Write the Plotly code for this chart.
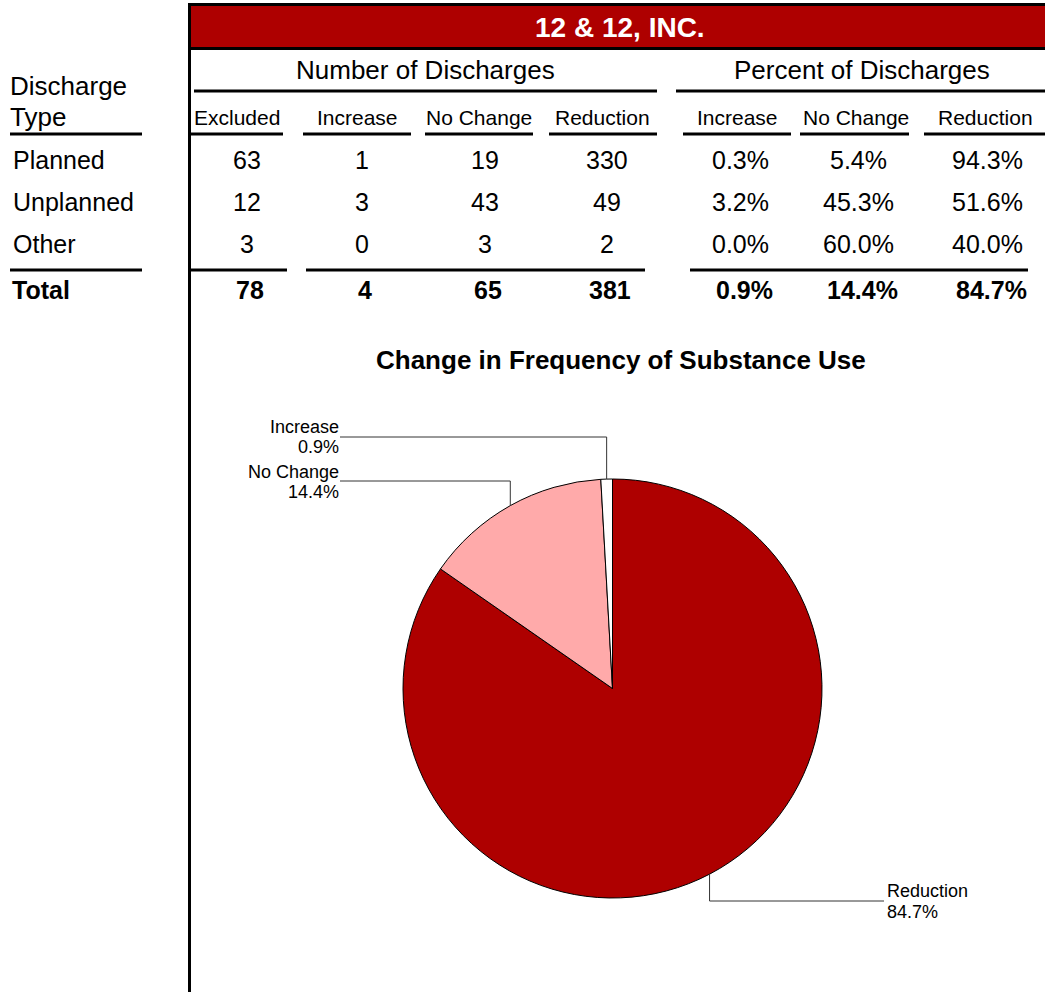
import math
import plotly.graph_objects as go

W, H = 1045, 992
FONT = "Liberation Sans, Arial, sans-serif"
RED = "#AE0000"
PINK = "#FFAAAA"

# data
discharge_types = ["Planned", "Unplanned", "Other"]
excluded = [63, 12, 3]
increase = [1, 3, 0]
no_change = [19, 43, 3]
reduction = [330, 49, 2]
count_headers = ["Excluded", "Increase", "No Change", "Reduction"]
pct_headers = ["Increase", "No Change", "Reduction"]
pie_labels = ["Reduction", "No Change", "Increase"]
pie_colors = [RED, PINK, "#FFFFFF"]


def X(px):
    return px / W


def Y(py):
    return 1 - py / H


def pct(part, whole):
    return f"{100 * part / whole:.1f}%" if whole else "0.0%"


shapes = []
annotations = []


def text(s, x, y, size, bold=False, color="black", xanchor="center"):
    annotations.append(dict(
        text=f"<b>{s}</b>" if bold else s, x=X(x), y=Y(y),
        xref="paper", yref="paper", xanchor=xanchor, yanchor="middle",
        showarrow=False, font=dict(family=FONT, size=size, color=color),
    ))


def hline(x0, x1, y, width=3, color="black"):
    shapes.append(dict(type="line", xref="paper", yref="paper",
                       x0=X(x0), x1=X(x1), y0=Y(y), y1=Y(y),
                       line=dict(color=color, width=width)))


def vline(x, y0, y1, width=3, color="black"):
    shapes.append(dict(type="line", xref="paper", yref="paper",
                       x0=X(x), x1=X(x), y0=Y(y0), y1=Y(y1),
                       line=dict(color=color, width=width)))


# header banner (open on the right) + left rule
shapes.append(dict(type="rect", xref="paper", yref="paper",
                   x0=X(189.5), x1=X(1045), y0=Y(4.5), y1=Y(48.5),
                   fillcolor=RED, line=dict(width=0)))
hline(188, 1045, 4.5)
hline(188, 1045, 48.5)
vline(189.5, 3, 995)
text("12 & 12, INC.", 620, 27, 28, bold=True, color="white")

# group headings
text("Number of Discharges", 425, 70, 26)
text("Percent of Discharges", 862, 70, 26)
hline(194, 657, 91)
hline(676, 1045, 91)

# column headings
text("Discharge", 8, 86, 26, xanchor="left")
text("Type", 8, 117, 26, xanchor="left")
hline(10, 142, 134)
count_x = [247, 362, 485, 607]
count_head_x = [237, 357, 479, 602]
count_line = [(190, 283), (303, 411), (425, 533), (549, 657)]
pct_x = [740, 858, 987]
pct_head_x = [737, 856, 985]
pct_line = [(683, 791), (800, 909), (924, 1045)]
for name, hx, (a, b) in zip(count_headers, count_head_x, count_line):
    text(name, hx, 118, 21)
    hline(a, b, 134)
for name, hx, (a, b) in zip(pct_headers, pct_head_x, pct_line):
    text(name, hx, 118, 21)
    hline(a, b, 134)

# body rows
row_y = [160, 202, 244]
for i, name in enumerate(discharge_types):
    y = row_y[i]
    text(name, 11, y, 25, xanchor="left")
    vals = [excluded[i], increase[i], no_change[i], reduction[i]]
    for v, cx in zip(vals, count_x):
        text(str(v), cx, y, 25)
    n = increase[i] + no_change[i] + reduction[i]
    for v, cx in zip(vals[1:], pct_x):
        text(pct(v, n), cx, y, 25)

# totals
hline(10, 142, 270)
hline(190, 287, 270)
hline(306, 645, 270)
hline(690, 1028, 270)
totals = [sum(excluded), sum(increase), sum(no_change), sum(reduction)]
text("Total", 10, 290, 25, bold=True, xanchor="left")
for v, cx in zip(totals, count_x):
    text(str(v), cx + 3, 290, 25, bold=True)
n_all = sum(totals[1:])
for v, cx in zip(totals[1:], pct_x):
    text(pct(v, n_all), cx + 4, 290, 25, bold=True)

# pie
pie_values = [totals[3], totals[2], totals[1]]
CX, CY, R = 612.5, 688.5, 209.5
text("Change in Frequency of Substance Use", 621, 360, 26, bold=True)

fig = go.Figure(go.Pie(
    labels=pie_labels, values=pie_values, sort=False, direction="clockwise",
    rotation=0, textinfo="none", hoverinfo="label+percent",
    marker=dict(colors=pie_colors, line=dict(color="black", width=1)),
    domain=dict(x=[X(CX - R), X(CX + R)], y=[Y(CY + R), Y(CY - R)]),
))

# leader lines from slice mid-points
total_pie = sum(pie_values)
cum = 0
mids = []
for v in pie_values:
    mid = (cum + v / 2) / total_pie * 2 * math.pi
    mids.append((CX + R * math.sin(mid), CY - R * math.cos(mid)))
    cum += v

LEAD = "#333333"
# Reduction (right/bottom)
rx, ry = mids[0]
vline(rx, ry, 901, width=1, color=LEAD)
hline(rx, 884, 901, width=1, color=LEAD)
text("Reduction", 885, 891, 18, xanchor="left")
text(pct(pie_values[0], total_pie), 885, 912, 18, xanchor="left")
# No Change
nx, ny = mids[1]
hline(340, nx, 481, width=1, color=LEAD)
vline(nx, 481, ny, width=1, color=LEAD)
text("No Change", 341, 472, 18, xanchor="right")
text(pct(pie_values[1], total_pie), 341, 492, 18, xanchor="right")
# Increase
ix, iy = mids[2]
hline(340, ix, 437, width=1, color=LEAD)
vline(ix, 437, iy, width=1, color=LEAD)
text("Increase", 341, 427, 18, xanchor="right")
text(pct(pie_values[2], total_pie), 341, 447, 18, xanchor="right")

fig.update_layout(
    width=W, height=H, margin=dict(l=0, r=0, t=0, b=0),
    paper_bgcolor="white", plot_bgcolor="white", showlegend=False,
    shapes=shapes, annotations=annotations,
    font=dict(family=FONT, color="black"),
)
# drop the browser's default 8px body margin so the page lines up with the window
fig.write_html("out.html", config={"displayModeBar": False},
               post_script="document.body.style.margin='0';document.body.style.overflow='hidden';")
